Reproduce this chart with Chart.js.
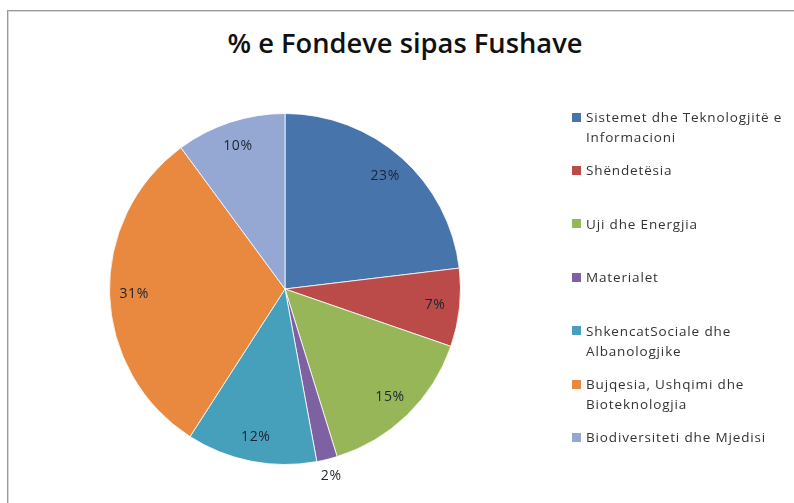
<!DOCTYPE html>
<html>
<head>
<meta charset="utf-8">
<script src="https://cdn.jsdelivr.net/npm/chart.js@4.4.1/dist/chart.umd.min.js"></script>
<style>
  html, body { margin: 0; padding: 0; background: #fff; }
  #wrap { position: relative; width: 794px; height: 503px; overflow: hidden; }
  #frame { position: absolute; left: 7px; top: 10px; width: 800px; height: 520px;
           border-top: 1px solid #9a9a9a; border-left: 1px solid #9a9a9a;
           box-shadow: inset 1px 1px 0 #d8d8d8; }
  #title { position: absolute; left: 0; top: 30px; width: 810px; text-align: center; line-height: 26px;
           font-family: "Open Sans", sans-serif; font-weight: 600; font-size: 27.3px; color: #111; }
  canvas { position: absolute; left: 0; top: 0; }
  #legend { position: absolute; left: 572px; top: 107px; width: 222px; }
  .item { position: absolute; left: 0; height: 53px; width: 222px;
          font-family: "Open Sans", sans-serif; font-size: 13.5px; line-height: 20px; color: #333; letter-spacing: 0.85px; }
  .sw { position: absolute; left: 0; top: 5.5px; width: 9px; height: 9px; }
  .tx { position: absolute; left: 14px; top: 0; white-space: pre; }
</style>
</head>
<body>
<div id="wrap">
  <div id="frame"></div>
  <div id="title">% e Fondeve sipas Fushave</div>
  <canvas id="c" width="794" height="503"></canvas>
  <div id="legend"></div>
</div>
<script>
const titleText = "% e Fondeve sipas Fushave";
const categories = [
  "Sistemet dhe Teknologjitë e\nInformacioni",
  "Shëndetësia",
  "Uji dhe Energjia",
  "Materialet",
  "ShkencatSociale dhe\nAlbanologjike",
  "Bujqesia, Ushqimi dhe\nBioteknologjia",
  "Biodiversiteti dhe Mjedisi"
];
const shares = [23.1, 7.2, 14.9, 1.9, 12.0, 30.8, 10.1];
const colors = ["#4874AC", "#BA4B49", "#97B658", "#7D61A0", "#46A0BC", "#E8893F", "#94A8D3"];

document.getElementById('title').textContent = titleText;

// HTML legend built from the arrays
const legend = document.getElementById('legend');
categories.forEach((lab, i) => {
  const it = document.createElement('div');
  it.className = 'item';
  it.style.top = (i * 53.4) + 'px';
  const sw = document.createElement('div');
  sw.className = 'sw';
  sw.style.background = colors[i];
  const tx = document.createElement('div');
  tx.className = 'tx';
  tx.textContent = lab;
  it.appendChild(sw); it.appendChild(tx);
  legend.appendChild(it);
});

const labelPlugin = {
  id: 'pctLabels',
  afterDatasetsDraw(chart) {
    const ctx = chart.ctx;
    const meta = chart.getDatasetMeta(0);
    const data = chart.data.datasets[0].data;
    const total = data.reduce((a, b) => a + b, 0);
    ctx.save();
    ctx.font = '14px "Open Sans", sans-serif';
    try { ctx.letterSpacing = '0.6px'; } catch (e) {}
    ctx.fillStyle = '#1c2434';
    ctx.textAlign = 'center';
    ctx.textBaseline = 'middle';
    meta.data.forEach((arc, i) => {
      const p = arc.getProps(['x', 'y', 'startAngle', 'endAngle', 'outerRadius'], true);
      const mid = (p.startAngle + p.endAngle) / 2;
      const pct = data[i] / total * 100;
      const f = pct < 5 ? 1.1 : 0.86;
      const r = p.outerRadius * f;
      ctx.fillText(Math.round(pct) + '%', p.x + Math.cos(mid) * r, p.y + Math.sin(mid) * r);
    });
    ctx.restore();
  }
};

new Chart(document.getElementById('c'), {
  type: 'pie',
  data: {
    labels: categories,
    datasets: [{
      data: shares,
      backgroundColor: colors,
      borderColor: 'rgba(255,255,255,0.8)',
      borderWidth: 1
    }]
  },
  options: {
    responsive: false,
    animation: false,
    layout: { padding: { left: 109, right: 333, top: 113, bottom: 38 } },
    plugins: {
      legend: { display: false },
      tooltip: { enabled: false },
      title: { display: false }
    }
  },
  plugins: [labelPlugin]
});
</script>
</body>
</html>
